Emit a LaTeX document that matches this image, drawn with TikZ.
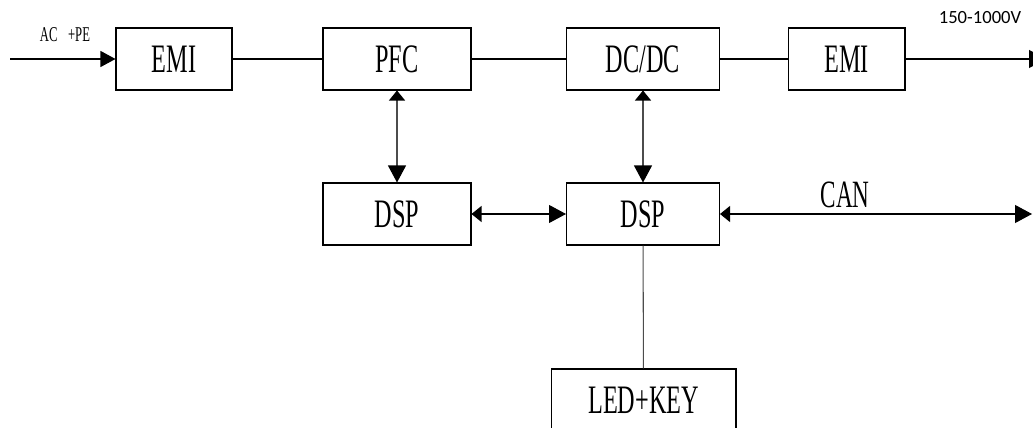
\documentclass[tikz,border=0pt]{standalone}
\usepackage{fontspec}
\usetikzlibrary{arrows.meta}
\newfontfamily\blockfont[FakeStretch=0.6]{Liberation Serif}
\newfontfamily\notefont{Carlito}

\begin{document}
\begin{tikzpicture}[x=0.02cm, y=-0.02cm,
    wire/.style={line width=0.6pt},
    drop/.style={wire, black!70},
    block/.style={draw, wire, minimum height=1.24cm, inner sep=0pt,
      font=\blockfont\fontsize{23}{24}\selectfont},
    feed/.style={wire, -{Triangle[length=0.3cm, width=0.32cm]}},
    link/.style={wire, {Triangle[length=0.2cm, width=0.32cm, color=black]}-{Triangle[length=0.34cm, width=0.36cm, color=black]}}]
  \useasboundingbox (0,0) rectangle (1033,428);
  % power path
  \node[block, minimum width=2.32cm] (emiA) at (174,59) {EMI};
  \node[block, minimum width=2.96cm] (pfc) at (397,59) {PFC};
  \node[block, minimum width=3.06cm] (dcdc) at (643,59) {DC/DC};
  \node[block, minimum width=2.34cm] (emiB) at (846.5,59) {EMI};
  % control
  \node[block, minimum width=2.96cm] (dspA) at (397,214) {DSP};
  \node[block, minimum width=3.06cm] (dspB) at (643,214) {DSP};
  \node[block, minimum width=3.7cm] (ledkey) at (643.5,400) {LED+KEY};
  \coordinate (acin) at (10,59);
  \coordinate (dcout) at (1046,59);
  \coordinate (canbus) at (1032,214);
  \node[font=\blockfont\fontsize{12}{13}\selectfont] (acpe) at (65,35) {AC\enspace+PE};
  \node[font=\notefont\fontsize{10.6}{11}\selectfont] (vout) at (980,18) {150-1000V};
  \node[font=\blockfont\fontsize{22}{23}\selectfont] (can) at (845,195) {CAN};

  \draw[feed] (acin) -- (emiA);
  \draw[wire] (emiA) -- (pfc);
  \draw[wire] (pfc) -- (dcdc);
  \draw[wire] (dcdc) -- (emiB);
  \draw[wire, -{Triangle[length=0.34cm, width=0.36cm]}] (emiB) -- (dcout);
  \draw[link, drop] (pfc) -- (dspA);
  \draw[link, drop] (dcdc) -- (dspB);
  \draw[link] (dspA) -- (dspB);
  \draw[link] (dspB) -- (canbus);
  \draw[drop] (dspB) -- (ledkey);
\end{tikzpicture}
\end{document}
